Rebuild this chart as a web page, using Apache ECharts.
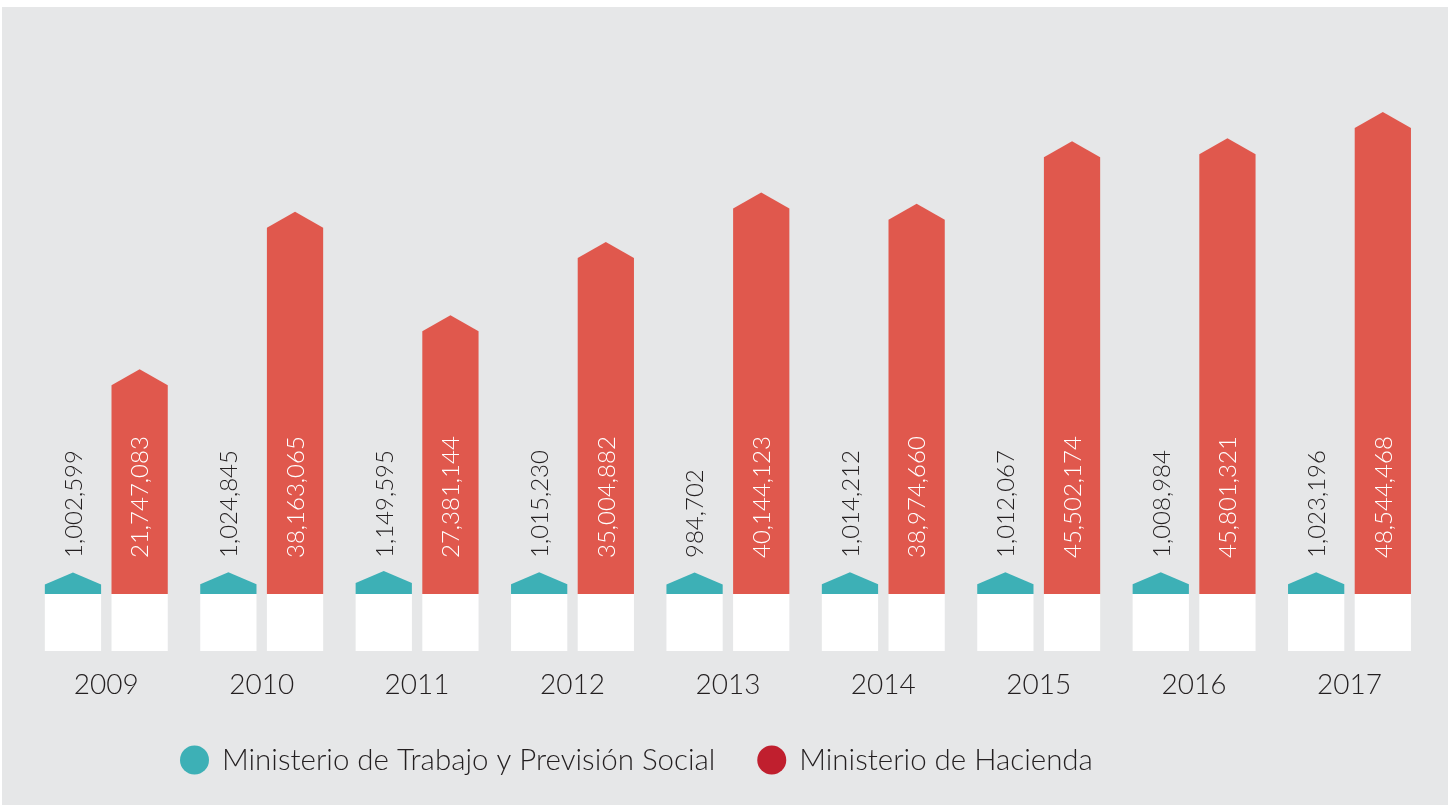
<!DOCTYPE html>
<html>
<head>
<meta charset="utf-8">
<script src="https://cdn.jsdelivr.net/npm/echarts@6/dist/echarts.min.js"></script>
<style>
  html, body { margin: 0; padding: 0; background: #ffffff; }
  #chart { width: 1448px; height: 806px; }
</style>
</head>
<body>
<div id="chart"></div>
<script>
// Years shown on the category axis
const years = ['2009', '2010', '2011', '2012', '2013', '2014', '2015', '2016', '2017'];

// Ministerio de Trabajo y Previsión Social
const trabajo = [1002599, 1024845, 1149595, 1015230, 984702, 1014212, 1012067, 1008984, 1023196];

// Ministerio de Hacienda
const hacienda = [21747083, 38163065, 27381144, 35004882, 40144123, 38974660, 45502174, 45801321, 48544468];

const seriesNames = ['Ministerio de Trabajo y Previsión Social', 'Ministerio de Hacienda'];

const FONT = 'Lato, "Open Sans", sans-serif';
const TEXT = '#231f20';
const TEAL = '#3db0b6';
const RED = '#e0584d';
const RED_KEY = '#c01f2e';

function fmt(v) {
  return String(Math.round(v)).replace(/\B(?=(\d{3})+(?!\d))/g, ',');
}

// Bar with a pointed roof, a white plinth below the baseline and a vertical value label
function houseBar(side, color, roof, labelColor) {
  return function (params, api) {
    const idx = api.value(0);
    const v = api.value(1);
    const band = api.size([1, 0])[0];
    const base = api.coord([idx, 0]);
    const top = api.coord([idx, v]);
    const w = band * 0.362;
    const cx = base[0] + side * band * 0.2145;
    const x0 = cx - w / 2;
    const x1 = cx + w / 2;
    return {
      type: 'group',
      children: [
        {
          type: 'rect',
          shape: { x: x0, y: base[1], width: w, height: 57 },
          style: { fill: '#ffffff' }
        },
        {
          type: 'polygon',
          shape: { points: [[x0, base[1]], [x0, top[1]], [cx, top[1] - roof], [x1, top[1]], [x1, base[1]]] },
          style: { fill: color }
        },
        {
          type: 'text',
          x: cx + 1,
          y: base[1] - 36,
          rotation: Math.PI / 2,
          z2: 10,
          style: {
            text: fmt(v),
            fill: labelColor,
            fontSize: 24,
            fontFamily: FONT,
            fontWeight: 300,
            align: 'left',
            verticalAlign: 'middle'
          }
        }
      ]
    };
  };
}

const chart = echarts.init(document.getElementById('chart'), null, { renderer: 'canvas' });

chart.setOption({
  backgroundColor: '#ffffff',
  animation: false,
  graphic: [
    {
      type: 'rect',
      z: -10,
      silent: true,
      shape: { x: 2, y: 7, width: 1446, height: 798 },
      style: { fill: '#e6e7e8' }
    }
  ],
  grid: { left: 28.6, right: 20.8, top: 114, bottom: 212 },
  xAxis: {
    type: 'category',
    data: years,
    axisLine: { show: false },
    axisTick: { show: false },
    splitLine: { show: false },
    axisLabel: {
      margin: 77,
      fontSize: 28,
      fontFamily: FONT,
      fontWeight: 300,
      color: TEXT
    }
  },
  yAxis: {
    type: 'value',
    min: 0,
    max: 50000000,
    show: false,
    splitLine: { show: false }
  },
  legend: {
    left: 180,
    top: 745,
    padding: 0,
    icon: 'circle',
    itemWidth: 29,
    itemHeight: 29,
    itemGap: 42,
    textStyle: {
      fontSize: 29.5,
      fontFamily: FONT,
      fontWeight: 300,
      color: TEXT,
      padding: [0, 0, 0, 8]
    },
    data: [
      { name: seriesNames[0], itemStyle: { color: TEAL } },
      { name: seriesNames[1], itemStyle: { color: RED_KEY } }
    ]
  },
  series: [
    {
      name: seriesNames[0],
      type: 'custom',
      itemStyle: { color: TEAL },
      renderItem: houseBar(-1, TEAL, 12, TEXT),
      encode: { x: 0, y: 1 },
      data: trabajo.map((v, i) => [i, v])
    },
    {
      name: seriesNames[1],
      type: 'custom',
      itemStyle: { color: RED },
      renderItem: houseBar(1, RED, 16, '#ffffff'),
      encode: { x: 0, y: 1 },
      data: hacienda.map((v, i) => [i, v])
    }
  ]
});
</script>
</body>
</html>
